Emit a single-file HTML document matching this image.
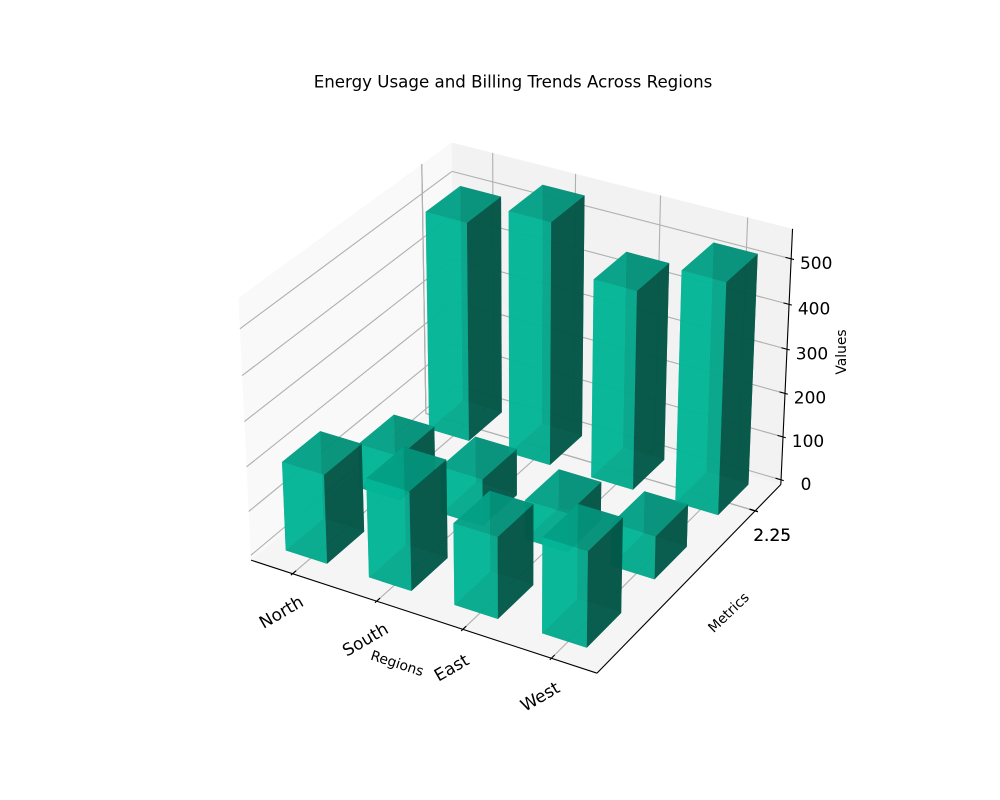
<!DOCTYPE html>
<html>
<head>
<meta charset="utf-8">
<title>Energy Usage and Billing Trends Across Regions</title>
<style>
html,body{margin:0;padding:0;background:#fff;}
svg{display:block;}
text{font-family:"DejaVu Sans","Liberation Sans",sans-serif;fill:#000;}
</style>
</head>
<body>
<svg id="chart" xmlns="http://www.w3.org/2000/svg" width="1000" height="800" viewBox="0 0 1000 800">
<rect x="0" y="0" width="1000" height="800" fill="#fff"/>
<text x="513" y="82" font-size="16.67" text-anchor="middle" dominant-baseline="central">Energy Usage and Billing Trends Across Regions</text>
<g id="panes"></g>
<g id="grid"></g>
<g id="axes"></g>
<g id="bars"></g>
<g id="labels"></g>
<text font-size="13.89" text-anchor="middle" dominant-baseline="central" transform="translate(397 664) rotate(18)">Regions</text>
<text font-size="13.89" text-anchor="middle" dominant-baseline="central" transform="translate(729 613) rotate(-44)">Metrics</text>
<text font-size="13.89" text-anchor="middle" dominant-baseline="central" transform="translate(842 352) rotate(-90)">Values</text>
</svg>
<script>
const regions = ['North', 'South', 'East', 'West'];
const metricRows = [0, 1, 2];
const frontRowValues = [200, 222, 182, 212];
const middleRowValues = [102, 107, 89, 97];
const backRowValues = [500, 550, 450, 520];
const xTicks = [0.25, 1.25, 2.25, 3.25];
const yTicks = [2.25, 2.25, 2.25];
const yTickLabels = ['2.25', '2.25', '2.25'];
const zTicks = [0, 100, 200, 300, 400, 500];

const SVGNS = 'http://www.w3.org/2000/svg';
const barWidth = 0.5;
const barDepth = 0.5;
const X0 = -0.255, X1 = 3.755, Y0 = -0.182, Y1 = 2.682, Z0 = -11, Z1 = 565;
const DIST = 10;
const baseRGB = [5, 204, 170];
const barAlpha = 0.82;
const aspectScale = 1.8294640721620434 * 25 / 24 / Math.sqrt(41);
const box = [4 * aspectScale, 4 * aspectScale, 3 * aspectScale * 1.005];
const el = 30 * Math.PI / 180, az = -60 * Math.PI / 180;
const W = [Math.cos(el) * Math.cos(az), Math.cos(el) * Math.sin(az), Math.sin(el)];
const ul = Math.hypot(W[0], W[1]);
const U = [-W[1] / ul, W[0] / ul, 0];
const V = [W[1] * U[2] - W[2] * U[1], W[2] * U[0] - W[0] * U[2], W[0] * U[1] - W[1] * U[0]];
const pxScale = 616 / 0.185;

function project(x, y, z) {
  const p = [
    ((x - X0) / (X1 - X0) - 0.5) * box[0],
    ((y - Y0) / (Y1 - Y0) - 0.5) * box[1],
    ((z - Z0) / (Z1 - Z0) - 0.5) * box[2]
  ];
  const dot = (a) => a[0] * p[0] + a[1] * p[1] + a[2] * p[2];
  const d = DIST - dot(W);
  return {
    x: 204.5 + (dot(U) / d + 0.095) * pxScale,
    y: 711.4 - (dot(V) / d + 0.095) * pxScale,
    t: -10 / d
  };
}
function pts(list) {
  return list.map(function (q) { return q.x.toFixed(2) + ',' + q.y.toFixed(2); }).join(' ');
}
function line(a, b, color, parent, name) {
  const ln = document.createElementNS(SVGNS, 'line');
  ln.setAttribute('x1', a.x.toFixed(2));
  ln.setAttribute('y1', a.y.toFixed(2));
  ln.setAttribute('x2', b.x.toFixed(2));
  ln.setAttribute('y2', b.y.toFixed(2));
  ln.setAttribute('stroke', color);
  ln.setAttribute('stroke-width', '1.11');
  
  
  parent.appendChild(ln);
}
function pane(corners, fill, name) {
  const pg = document.createElementNS(SVGNS, 'polygon');
  pg.setAttribute('points', pts(corners));
  pg.setAttribute('fill', fill);
  
  
  document.getElementById('panes').appendChild(pg);
}
function label(txt, x, y, rot, name) {
  const t = document.createElementNS(SVGNS, 'text');
  t.textContent = txt;
  t.setAttribute('font-size', '17');
  t.setAttribute('text-anchor', 'middle');
  t.setAttribute('dominant-baseline', 'central');
  t.setAttribute('transform', 'translate(' + x.toFixed(2) + ' ' + y.toFixed(2) + ') rotate(' + rot + ')');
  
  
  document.getElementById('labels').appendChild(t);
}

pane([project(X0, Y0, Z0), project(X0, Y1, Z0), project(X0, Y1, Z1), project(X0, Y0, Z1)], '#f9f9f9', 'left-wall-pane');
pane([project(X0, Y1, Z0), project(X1, Y1, Z0), project(X1, Y1, Z1), project(X0, Y1, Z1)], '#f2f2f2', 'back-wall-pane');
pane([project(X0, Y0, Z0), project(X1, Y0, Z0), project(X1, Y1, Z0), project(X0, Y1, Z0)], '#f5f5f5', 'floor-pane');

const gridG = document.getElementById('grid');
const gridColor = '#b0b0b0';
xTicks.forEach(function (v) {
  line(project(v, Y0, Z0), project(v, Y1, Z0), gridColor, gridG, 'x-grid-floor');
  line(project(v, Y1, Z0), project(v, Y1, Z1), gridColor, gridG, 'x-grid-wall');
});
yTicks.forEach(function (v) {
  line(project(X0, v, Z0), project(X1, v, Z0), gridColor, gridG, 'y-grid-floor');
  line(project(X0, v, Z0), project(X0, v, Z1), gridColor, gridG, 'y-grid-wall');
});
zTicks.forEach(function (v) {
  line(project(X0, Y0, v), project(X0, Y1, v), gridColor, gridG, 'z-grid-left');
  line(project(X0, Y1, v), project(X1, Y1, v), gridColor, gridG, 'z-grid-back');
});

const axesG = document.getElementById('axes');
line(project(X0, Y0, Z0), project(X1, Y0, Z0), '#000', axesG, 'x-axis-line');
line(project(X1, Y0, Z0), project(X1, Y1, Z0), '#000', axesG, 'y-axis-line');
line(project(X1, Y1, Z0), project(X1, Y1, Z1), '#000', axesG, 'z-axis-line');
xTicks.forEach(function (v, i) {
  line(project(v, Y0 - 0.0229, Z0), project(v, Y0 + 0.0458, Z0), '#000', axesG, 'x-tick');
  const a = project(v, Y0, Z0);
  label(regions[i], a.x - 11, a.y + 39, -30, 'x-tick-label');
});
yTicks.forEach(function (v, i) {
  line(project(X1 + 0.0321, v, Z0), project(X1 - 0.0642, v, Z0), '#000', axesG, 'y-tick');
  const a = project(X1, v, Z0);
  label(yTickLabels[i], a.x + 17, a.y + 25, 0, 'y-tick-label');
});
zTicks.forEach(function (v) {
  line(project(X1 + 0.0321, Y1, v), project(X1 - 0.0642, Y1, v), '#000', axesG, 'z-tick');
  const a = project(X1, Y1, v);
  label(String(v), a.x + 25, a.y + 5, 0, 'z-tick-label');
});

const rowValues = [frontRowValues, middleRowValues, backRowValues];
const faces = [];
function shadeFor(n) {
  const s = (n[0] * -0.6667 + n[1] * -0.6667 + n[2] * 0.3333 + 1) / 2;
  return 0.3 + 0.7 * s;
}
function addFace(corners, normal, region, row) {
  const q = corners.map(function (c) { return project(c[0], c[1], c[2]); });
  const depth = q.reduce(function (acc, r) { return acc + r.t; }, 0) / q.length;
  const k = shadeFor(normal);
  faces.push({
    q: q,
    depth: depth,
    fill: 'rgb(' + baseRGB.map(function (c) { return Math.round(c * k); }).join(',') + ')',
    region: region,
    row: row
  });
}
metricRows.forEach(function (row, r) {
  regions.forEach(function (region, i) {
    const h = rowValues[r][i];
    const x0 = i, x1 = i + barWidth, y0 = row, y1 = row + barDepth;
    addFace([[x0, y0, 0], [x1, y0, 0], [x1, y1, 0], [x0, y1, 0]], [0, 0, -1], region, row);
    addFace([[x0, y0, h], [x1, y0, h], [x1, y1, h], [x0, y1, h]], [0, 0, 1], region, row);
    addFace([[x0, y0, 0], [x1, y0, 0], [x1, y0, h], [x0, y0, h]], [0, -1, 0], region, row);
    addFace([[x0, y1, 0], [x1, y1, 0], [x1, y1, h], [x0, y1, h]], [0, 1, 0], region, row);
    addFace([[x0, y0, 0], [x0, y1, 0], [x0, y1, h], [x0, y0, h]], [-1, 0, 0], region, row);
    addFace([[x1, y0, 0], [x1, y1, 0], [x1, y1, h], [x1, y0, h]], [1, 0, 0], region, row);
  });
});
faces.sort(function (a, b) { return b.depth - a.depth; });
const barsG = document.getElementById('bars');
faces.forEach(function (f) {
  const pg = document.createElementNS(SVGNS, 'polygon');
  pg.setAttribute('points', pts(f.q));
  pg.setAttribute('fill', f.fill);
  pg.setAttribute('fill-opacity', barAlpha);
  
  
  barsG.appendChild(pg);
});
</script>
</body>
</html>
